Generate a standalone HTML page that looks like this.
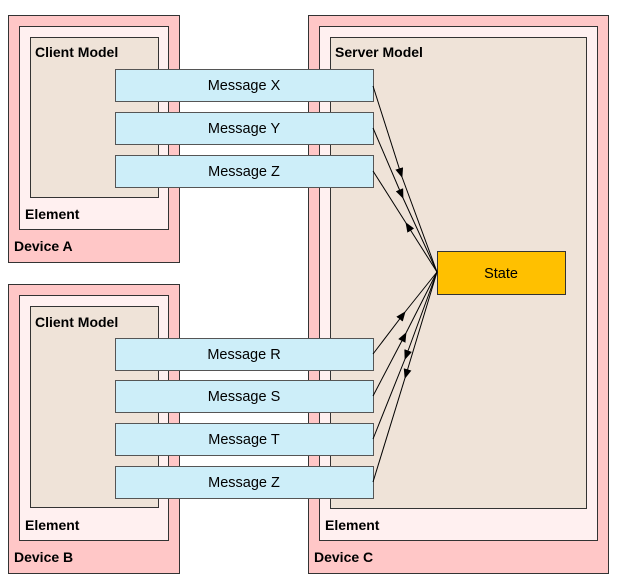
<!DOCTYPE html>
<html><head><style>
body{margin:0;background:#fff;}
svg{display:block;font-family:"Liberation Sans",Arial,sans-serif;}
.b{font-weight:bold;font-size:14px;fill:#000}
.m{font-size:14.5px;fill:#000}
</style></head><body>
<svg width="618" height="586" viewBox="0 0 618 586">
<defs>
<marker id="a" markerWidth="10" markerHeight="8" refX="9" refY="4" orient="auto" markerUnits="userSpaceOnUse">
<path d="M0,0 L10,4 L0,8 z" fill="#000"/></marker>
</defs>
<rect x="8.5" y="15.5" width="171" height="247" fill="#ffc7c7" stroke="#333"/>
<rect x="19.5" y="26.5" width="149" height="203" fill="#fff0f0" stroke="#333"/>
<rect x="30.5" y="37.5" width="128" height="160" fill="#efe3d8" stroke="#333"/>
<text class="b" x="35" y="57">Client Model</text>
<text class="b" x="25" y="219">Element</text>
<text class="b" x="14" y="251">Device A</text>
<rect x="8.5" y="284.5" width="171" height="289" fill="#ffc7c7" stroke="#333"/>
<rect x="19.5" y="295.5" width="149" height="245" fill="#fff0f0" stroke="#333"/>
<rect x="30.5" y="306.5" width="128" height="201" fill="#efe3d8" stroke="#333"/>
<text class="b" x="35" y="327">Client Model</text>
<text class="b" x="25" y="530">Element</text>
<text class="b" x="14" y="562">Device B</text>
<rect x="308.5" y="15.5" width="300" height="558" fill="#ffc7c7" stroke="#333"/>
<rect x="319.5" y="26.5" width="278" height="514" fill="#fff0f0" stroke="#333"/>
<rect x="330.5" y="37.5" width="256" height="471" fill="#efe3d8" stroke="#333"/>
<text class="b" x="335" y="57">Server Model</text>
<text class="b" x="325" y="530">Element</text>
<text class="b" x="314" y="562">Device C</text>
<g fill="#cdeef9" stroke="#555">
<rect x="115.5" y="69.5" width="258" height="32"/>
<rect x="115.5" y="112.5" width="258" height="32"/>
<rect x="115.5" y="155.5" width="258" height="32"/>
<rect x="115.5" y="338.5" width="258" height="32"/>
<rect x="115.5" y="380.5" width="258" height="32"/>
<rect x="115.5" y="423.5" width="258" height="32"/>
<rect x="115.5" y="466.5" width="258" height="32"/>
</g>
<g class="m" text-anchor="middle">
<text x="244" y="90">Message X</text>
<text x="244" y="133">Message Y</text>
<text x="244" y="176">Message Z</text>
<text x="244" y="359">Message R</text>
<text x="244" y="401">Message S</text>
<text x="244" y="444">Message T</text>
<text x="244" y="487">Message Z</text>
</g>
<rect x="437.5" y="251.5" width="128" height="43" fill="#ffc000" stroke="#333"/>
<text class="m" x="501" y="278" text-anchor="middle">State</text>
<g stroke="#000" stroke-width="1" fill="none">
<line x1="373" y1="86" x2="402" y2="177" marker-end="url(#a)"/><line x1="402" y1="177" x2="437" y2="272"/>
<line x1="373" y1="128" x2="403" y2="198" marker-end="url(#a)"/><line x1="403" y1="198" x2="437" y2="272"/>
<line x1="437" y1="272" x2="406" y2="223" marker-end="url(#a)"/><line x1="406" y1="223" x2="373" y2="171"/>
<line x1="373" y1="354" x2="405" y2="312" marker-end="url(#a)"/><line x1="405" y1="312" x2="437" y2="272"/>
<line x1="373" y1="396" x2="406" y2="333" marker-end="url(#a)"/><line x1="406" y1="333" x2="437" y2="272"/>
<line x1="437" y1="272" x2="405" y2="359" marker-end="url(#a)"/><line x1="405" y1="359" x2="373" y2="439"/>
<line x1="437" y1="272" x2="405" y2="378" marker-end="url(#a)"/><line x1="405" y1="378" x2="373" y2="482"/>
</g>
</svg>
</body></html>
